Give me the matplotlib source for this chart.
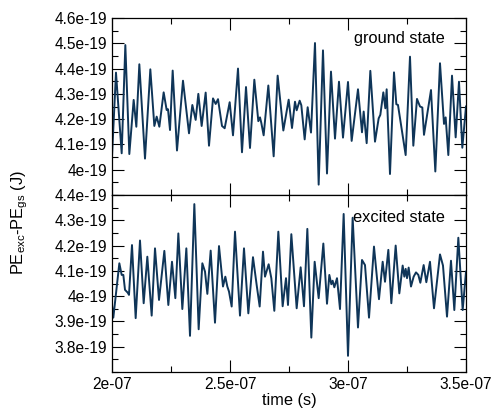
import matplotlib

matplotlib.use("Agg")
import matplotlib.pyplot as plt
from matplotlib.ticker import FuncFormatter, MultipleLocator

# values: time in ns, energy difference in units of 1e-19 J
t_ground = [
    200.0, 201.69, 204.10, 205.65, 207.34, 209.18, 210.31, 211.58, 213.98, 216.24,
    217.94, 218.93, 220.06, 221.89, 223.16, 223.73, 224.58, 225.71, 227.54, 230.08,
    232.63, 234.04, 235.45, 236.58, 237.99, 239.69, 241.10, 242.80, 243.93, 244.92,
    246.61, 247.74, 249.86, 251.27, 253.39, 255.08, 256.78, 258.47, 260.31, 262.00,
    262.71, 263.27, 264.26, 266.24, 268.50, 270.19, 272.60, 274.86, 276.27, 277.54,
    278.25, 279.52, 280.22, 281.64, 282.91, 284.32, 286.01, 287.57, 289.40, 291.10,
    292.79, 294.49, 296.18, 297.88, 300.0, 301.55, 304.23, 305.93, 306.64, 307.91,
    309.46, 311.44, 312.99, 313.70, 314.97, 315.82, 316.38, 317.79, 319.49, 320.48,
    321.18, 324.43, 326.27, 327.68, 329.23, 330.51, 331.49, 332.20, 335.17, 337.00,
    338.98, 340.68, 341.38, 342.51, 344.07, 345.62, 347.03, 348.44, 350.0,
]
pe_ground = [
    4.052, 4.384, 4.065, 4.493, 4.062, 4.276, 4.170, 4.417, 4.044, 4.397,
    4.173, 4.210, 4.170, 4.306, 4.236, 4.239, 4.157, 4.392, 4.076, 4.352,
    4.144, 4.256, 4.197, 4.300, 4.173, 4.305, 4.095, 4.282, 4.260, 4.279,
    4.173, 4.164, 4.267, 4.136, 4.400, 4.069, 4.327, 4.086, 4.356, 4.192,
    4.207, 4.185, 4.136, 4.333, 4.053, 4.372, 4.155, 4.277, 4.165, 4.269,
    4.235, 4.273, 4.255, 4.120, 4.247, 4.147, 4.501, 3.941, 4.472, 3.985,
    4.388, 4.123, 4.348, 4.127, 4.347, 4.114, 4.318, 4.148, 4.230, 4.105,
    4.391, 4.111, 4.203, 4.217, 4.306, 4.243, 4.318, 3.983, 4.385, 4.259,
    4.256, 4.058, 4.447, 4.095, 4.280, 4.250, 4.246, 4.138, 4.315, 3.993,
    4.421, 4.181, 4.207, 4.058, 4.372, 4.128, 4.348, 4.087, 4.25,
]

t_excited = [
    200.0, 200.56, 203.11, 204.10, 204.80, 205.51, 206.64, 207.20, 208.47, 210.03,
    211.86, 213.42, 214.97, 216.81, 218.22, 219.92, 222.18, 223.87, 225.42, 226.84,
    228.11, 229.80, 231.50, 233.05, 234.89, 236.72, 238.28, 239.41, 240.40, 241.81,
    243.64, 245.34, 247.03, 248.02, 248.87, 249.58, 250.71, 252.12, 254.23, 255.93,
    257.77, 259.74, 261.30, 262.57, 263.98, 264.83, 266.38, 267.51, 268.78, 270.48,
    272.31, 273.73, 274.57, 275.99, 278.25, 279.94, 281.35, 282.77, 284.46, 285.87,
    287.57, 289.55, 291.10, 292.09, 292.94, 293.50, 294.21, 295.34, 296.61, 298.16,
    300.0, 301.97, 304.23, 305.93, 307.20, 308.90, 311.01, 313.13, 314.69, 315.68,
    317.09, 318.36, 320.20, 321.75, 323.16, 323.87, 324.43, 325.00, 325.70, 326.69,
    327.82, 328.81, 329.80, 330.65, 332.06, 333.19, 334.74, 336.44, 338.98, 340.25,
    341.95, 343.64, 345.05, 346.75, 348.59, 350.0,
]
pe_excited = [
    3.965, 3.915, 4.130, 4.084, 4.084, 4.025, 4.014, 4.005, 4.202, 3.913,
    4.220, 3.972, 4.156, 3.923, 4.189, 3.985, 4.179, 3.965, 4.136, 3.992,
    4.248, 3.949, 4.189, 3.843, 4.364, 3.869, 4.130, 4.097, 4.009, 4.180,
    3.895, 4.198, 4.038, 4.077, 4.038, 4.018, 3.959, 4.255, 3.923, 4.189,
    3.932, 4.154, 4.044, 3.959, 4.176, 4.077, 4.126, 4.071, 3.942, 4.255,
    3.960, 4.071, 3.965, 4.245, 3.952, 4.114, 3.960, 4.266, 3.836, 4.136,
    3.992, 4.208, 3.970, 4.084, 4.047, 4.061, 4.035, 4.071, 3.949, 4.325,
    3.764, 4.310, 3.876, 4.143, 4.123, 3.915, 4.196, 3.988, 4.136, 4.057,
    4.183, 3.972, 4.200, 4.011, 4.121, 4.077, 4.108, 4.071, 4.113, 4.038,
    4.077, 4.094, 4.084, 4.053, 4.123, 4.055, 4.136, 3.952, 4.165, 4.121,
    3.919, 4.140, 3.945, 4.231, 3.945, 4.097,
]

x_ticks = [2e-7, 2.5e-7, 3e-7, 3.5e-7]
ground_ticks = [4.0e-19, 4.1e-19, 4.2e-19, 4.3e-19, 4.4e-19, 4.5e-19, 4.6e-19]
excited_ticks = [3.8e-19, 3.9e-19, 4.0e-19, 4.1e-19, 4.2e-19, 4.3e-19, 4.4e-19]

LINE = "#0f3558"

plt.rcParams["font.family"] = ["Liberation Sans", "DejaVu Sans"]
plt.rcParams["mathtext.fontset"] = "custom"
plt.rcParams["mathtext.rm"] = "Liberation Sans"
plt.rcParams["mathtext.it"] = "Liberation Sans:italic"


def style_axis(ax, yticks, ylim):
    fmt = FuncFormatter(lambda v, pos: "%g" % v)
    ax.set_xlim(2e-7, 3.5e-7)
    # tiny headroom so the boundary tick (e.g. 4.4e-19) is not dropped by rounding
    ax.set_ylim(ylim[0], ylim[1] * (1 + 1e-9))
    ax.set_xticks(x_ticks)
    ax.xaxis.set_minor_locator(MultipleLocator(0.25e-7))
    ax.set_yticks(yticks)
    ax.yaxis.set_minor_locator(MultipleLocator(0.05e-19))
    ax.xaxis.set_major_formatter(fmt)
    ax.yaxis.set_major_formatter(fmt)
    ax.tick_params(which="both", direction="in", top=True, right=True, width=0.8, labelsize=11.2)
    ax.tick_params(which="major", length=8.5, pad=3.5)
    ax.tick_params(which="minor", length=4.3)
    for s in ax.spines.values():
        s.set_linewidth(0.9)


def main():
    fig = plt.figure(figsize=(4.95, 4.09), dpi=100)
    left, width = 112 / 495, 354 / 495
    ax_top = fig.add_axes([left, 1 - 195 / 409, width, 177 / 409])
    ax_bot = fig.add_axes([left, 1 - 372 / 409, width, 177 / 409])

    ax_top.plot([t * 1e-9 for t in t_ground], [v * 1e-19 for v in pe_ground],
                color=LINE, lw=1.4, solid_joinstyle="round")
    ax_bot.plot([t * 1e-9 for t in t_excited], [v * 1e-19 for v in pe_excited],
                color=LINE, lw=1.4, solid_joinstyle="round")

    style_axis(ax_top, ground_ticks, (3.9e-19, 4.6e-19))
    style_axis(ax_bot, excited_ticks, (3.7e-19, 4.4e-19))
    ax_top.tick_params(labelbottom=False)

    ax_top.text(0.939, 0.885, "ground state", transform=ax_top.transAxes,
                ha="right", va="center", fontsize=11.8)
    ax_bot.text(0.939, 0.875, "excited state", transform=ax_bot.transAxes,
                ha="right", va="center", fontsize=11.8)

    fig.text(289 / 495, 1 - 400 / 409, "time (s)", ha="center", va="center", fontsize=11.8)
    fig.text(20 / 495, 1 - 222 / 409, r"PE$_{\mathrm{exc}}$-PE$_{\mathrm{gs}}$ (J)",
             rotation=90, ha="center", va="center", fontsize=11.8)

    fig.savefig("out.png", dpi=100)


if __name__ == "__main__":
    main()
